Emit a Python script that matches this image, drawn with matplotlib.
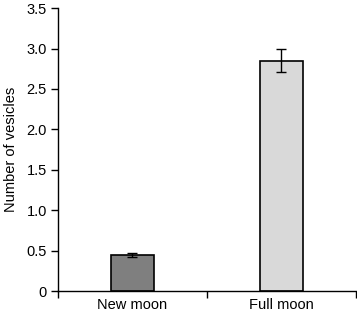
import matplotlib
matplotlib.use("Agg")
import matplotlib.pyplot as plt
from matplotlib.ticker import FixedLocator, FuncFormatter

categories = ["New moon", "Full moon"]
values = [0.445, 2.85]
errors = [0.025, 0.14]
colors = ["#7f7f7f", "#d9d9d9"]

plt.rcParams['font.family'] = ['Liberation Sans', 'DejaVu Sans']
plt.rcParams['font.size'] = 10.5

fig = plt.figure(figsize=(3.57, 3.11), dpi=100)
ax = fig.add_axes([0.1625, 0.0643, 0.8345, 0.9097])

x = list(range(len(categories)))
ax.bar(x, values, width=0.29, color=colors, edgecolor="black", linewidth=1.2,
       yerr=errors, error_kw=dict(ecolor="black", elinewidth=1.0, capsize=3.5, capthick=1.0))

ax.set_xlim(-0.5, 1.5)
ax.set_ylim(0, 3.5)
ax.set_yticks([0, 0.5, 1.0, 1.5, 2.0, 2.5, 3.0, 3.5])
ax.yaxis.set_major_formatter(FuncFormatter(lambda v, p: "0" if v == 0 else f"{v:.1f}"))
ax.set_xticks(x)
ax.set_xticklabels(categories)
ax.tick_params(axis='x', which='major', length=0, pad=5)
ax.xaxis.set_minor_locator(FixedLocator([-0.5, 0.5, 1.5]))
ax.tick_params(axis='x', which='minor', length=5, width=1.0, direction='out')
ax.tick_params(axis='y', length=5, width=1.0, direction='out', pad=3)
for s in ["top", "right"]:
    ax.spines[s].set_visible(False)
for s in ["left", "bottom"]:
    ax.spines[s].set_linewidth(1.0)
ax.set_ylabel("Number of vesicles", labelpad=6)

fig.savefig("out.png", dpi=100)
